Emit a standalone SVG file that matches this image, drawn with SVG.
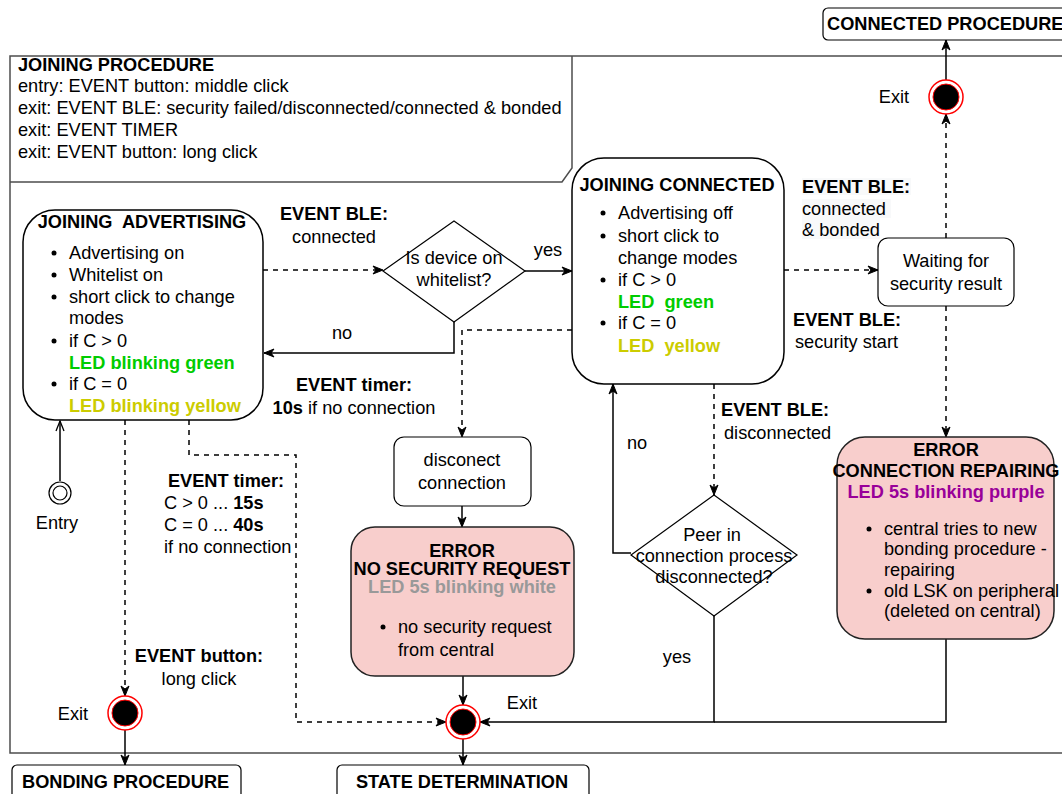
<svg xmlns="http://www.w3.org/2000/svg" width="1062" height="794" viewBox="0 0 1062 794">
  <defs>
    <style>
      .t { font-family: "Liberation Sans", Arial, sans-serif; font-size: 18.2px; fill: #000; }
      .b { font-weight: bold; }
      .c { text-anchor: middle; }
      .frame { fill: none; stroke: #4d4d4d; stroke-width: 1.5; }
      .state { fill: #fff; stroke: #000; stroke-width: 1.5; }
      .err { fill: #f8cecc; stroke: #222; stroke-width: 1.5; }
      .proc { fill: #fff; stroke: #000; stroke-width: 1.2; }
      .dia { fill: #fff; stroke: #000; stroke-width: 1.2; }
      .line { fill: none; stroke: #000; stroke-width: 1.5; }
      .dash { stroke-dasharray: 5 5; }
      .arr { marker-end: url(#arrow); }
      .dot { fill: #000; }
      .exitRing { fill: #fff; stroke: #ff0000; stroke-width: 1.5; }
      .exitCore { fill: #000; stroke: #ff0000; stroke-width: 1; }
      .lbl { fill: #f8f9fa; }
    </style>
    <marker id="arrow" markerUnits="userSpaceOnUse" markerWidth="11" markerHeight="9" refX="10" refY="4" orient="auto" overflow="visible">
      <path d="M0,0 L10,4 L0,8 L3,4 Z" fill="#000" stroke="#000" stroke-width="1"/>
    </marker>
    <marker id="open" markerUnits="userSpaceOnUse" markerWidth="11" markerHeight="9" refX="10" refY="4" orient="auto" overflow="visible">
      <path d="M0,0 L10,4 L0,8" fill="none" stroke="#000" stroke-width="1.3"/>
    </marker>
  </defs>

  <rect width="1062" height="794" fill="#fff"/>

  <!-- composite state frame -->
  <g id="joining-procedure">
    <path class="frame" d="M1070,56 H10 V753 H1070"/>
    <path class="frame" d="M10,182 H562 L572,168 V56"/>
    <text class="t b" x="18" y="71">JOINING PROCEDURE</text>
    <text class="t" x="18" y="92">entry: EVENT button: middle click</text>
    <text class="t" x="18" y="114">exit: EVENT BLE: security failed/disconnected/connected &amp; bonded</text>
    <text class="t" x="18" y="136">exit: EVENT TIMER</text>
    <text class="t" x="18" y="158">exit: EVENT button: long click</text>
  </g>

  <!-- transitions -->
  <g id="connectors">
    <path class="line dash arr" d="M263,270 H383"/>
    <path class="line arr" d="M454,322 V353 H264"/>
    <path class="line arr" d="M525,271 H572"/>
    <path class="line dash arr" d="M572,330 H462 V437"/>
    <path class="line arr" d="M462,506 V527"/>
    <path class="line arr" d="M463,676 V705"/>
    <path class="line arr" d="M463,739 V765"/>
    <path class="line dash arr" d="M125,420 V696"/>
    <path class="line arr" d="M125,730 V765"/>
    <path class="line" d="M60,481 V421" marker-end="url(#open)"/>
    <path class="line dash arr" d="M189,420 V455 H296 V722 H446"/>
    <path class="line arr" d="M631,553 H613 V384"/>
    <path class="line dash arr" d="M714,384 V495"/>
    <path class="line arr" d="M714,616 V722 H480"/>
    <path class="line" d="M946,639 V722 H714"/>
    <path class="line dash arr" d="M784,270 H878"/>
    <path class="line dash arr" d="M946,306 V437"/>
    <path class="line dash arr" d="M946,238 V114"/>
    <path class="line arr" d="M946,80 V40"/>

    <!-- transition labels -->
    <text class="t b c" x="334" y="220">EVENT BLE:</text>
    <text class="t c" x="334" y="243">connected</text>
    <text class="t c" x="342" y="339">no</text>
    <text class="t b c" x="354" y="391">EVENT timer:</text>
    <text class="t c" x="354" y="414"><tspan class="b">10s</tspan> if no connection</text>
    <text class="t c" x="548" y="256">yes</text>
    <text class="t b c" x="226" y="487">EVENT timer:</text>
    <text class="t" x="164" y="509">C &gt; 0 ... <tspan class="b">15s</tspan></text>
    <text class="t" x="164" y="531">C = 0 ... <tspan class="b">40s</tspan></text>
    <text class="t" x="164" y="553">if no connection</text>
    <text class="t b c" x="199" y="662">EVENT button:</text>
    <text class="t c" x="199" y="685">long click</text>
    <text class="t c" x="637" y="449">no</text>
    <text class="t b" x="721" y="416">EVENT BLE:</text>
    <text class="t" x="724" y="439">disconnected</text>
    <text class="t c" x="677" y="663">yes</text>
    <rect class="lbl" x="802" y="178" width="109" height="17"/>
    <rect class="lbl" x="802" y="199" width="89" height="19"/>
    <rect class="lbl" x="802" y="218" width="78" height="21"/>
    <text class="t b" x="802" y="193">EVENT BLE:</text>
    <text class="t" x="802" y="215">connected</text>
    <text class="t" x="802" y="236">&amp; bonded</text>
    <text class="t b" x="793" y="326">EVENT BLE:</text>
    <text class="t" x="795" y="348">security start</text>
  </g>

  <g id="joining-advertising">
    <rect class="state" x="23" y="210" width="240" height="210" rx="32"/>
    <text class="t b c" x="142" y="228">JOINING&#160; ADVERTISING</text>
    <circle class="dot" cx="54" cy="253" r="2.5"/>
    <circle class="dot" cx="54" cy="275" r="2.5"/>
    <circle class="dot" cx="54" cy="297" r="2.5"/>
    <circle class="dot" cx="54" cy="341" r="2.5"/>
    <circle class="dot" cx="54" cy="384" r="2.5"/>
    <text class="t" x="69" y="259">Advertising on</text>
    <text class="t" x="69" y="281">Whitelist on</text>
    <text class="t" x="69" y="303">short click to change</text>
    <text class="t" x="69" y="324">modes</text>
    <text class="t" x="69" y="347">if C &gt; 0</text>
    <text class="t b" x="69" y="369" style="fill:#00cc00">LED blinking green</text>
    <text class="t" x="69" y="390">if C = 0</text>
    <text class="t b" x="69" y="412" style="fill:#cccc00">LED blinking yellow</text>
  </g>

  <g id="whitelist-check">
    <polygon class="dia" points="454,221 525,271 454,322 383,271"/>
    <text class="t c" x="454" y="264">Is device on</text>
    <text class="t c" x="454" y="286">whitelist?</text>
  </g>

  <g id="joining-connected">
    <rect class="state" x="572" y="158" width="212" height="226" rx="32"/>
    <text class="t b c" x="677" y="191">JOINING CONNECTED</text>
    <circle class="dot" cx="603" cy="213" r="2.5"/>
    <circle class="dot" cx="603" cy="236" r="2.5"/>
    <circle class="dot" cx="603" cy="280" r="2.5"/>
    <circle class="dot" cx="603" cy="323" r="2.5"/>
    <text class="t" x="618" y="219">Advertising off</text>
    <text class="t" x="618" y="242">short click to</text>
    <text class="t" x="618" y="264">change modes</text>
    <text class="t" x="618" y="286">if C &gt; 0</text>
    <text class="t b" x="618" y="308" style="fill:#00cc00">LED&#160; green</text>
    <text class="t" x="618" y="329">if C = 0</text>
    <text class="t b" x="618" y="352" style="fill:#cccc00">LED&#160; yellow</text>
  </g>

  <g id="disconnect-connection">
    <rect class="proc" x="394" y="437" width="137" height="69" rx="10"/>
    <text class="t c" x="462" y="466">disconect</text>
    <text class="t c" x="462" y="489">connection</text>
  </g>

  <g id="error-no-security-request">
    <rect class="err" x="351" y="527" width="223" height="149" rx="24"/>
    <text class="t b c" x="462" y="557">ERROR</text>
    <text class="t b c" x="462" y="575">NO SECURITY REQUEST</text>
    <text class="t b c" x="462" y="593" style="fill:#999999">LED 5s blinking white</text>
    <circle class="dot" cx="383" cy="627" r="2.5"/>
    <text class="t" x="398" y="633">no security request</text>
    <text class="t" x="398" y="656">from central</text>
  </g>

  <g id="peer-check">
    <polygon class="dia" points="714,495 797,555 714,616 631,555"/>
    <text class="t c" x="712" y="541">Peer in</text>
    <text class="t c" x="714" y="562">connection process</text>
    <text class="t c" x="714" y="583">disconnected?</text>
  </g>

  <g id="waiting-security">
    <rect class="proc" x="878" y="238" width="136" height="68" rx="10"/>
    <text class="t c" x="946" y="267">Waiting for</text>
    <text class="t c" x="946" y="290">security result</text>
  </g>

  <g id="error-connection-repairing">
    <rect class="err" x="837" y="437" width="217" height="202" rx="28"/>
    <text class="t b c" x="946" y="456">ERROR</text>
    <text class="t b c" x="946" y="477">CONNECTION REPAIRING</text>
    <text class="t b c" x="946" y="498" style="fill:#990099">LED 5s blinking purple</text>
    <circle class="dot" cx="869" cy="529" r="2.5"/>
    <circle class="dot" cx="869" cy="591" r="2.5"/>
    <text class="t" x="884" y="535">central tries to new</text>
    <text class="t" x="884" y="555">bonding procedure -</text>
    <text class="t" x="884" y="576">repairing</text>
    <text class="t" x="884" y="597">old LSK on peripheral</text>
    <text class="t" x="884" y="617">(deleted on central)</text>
  </g>

  <g id="entry">
    <circle cx="60" cy="493" r="11" fill="#fff" stroke="#000" stroke-width="1.2"/>
    <circle cx="60" cy="493" r="7" fill="#fff" stroke="#000" stroke-width="1.2"/>
    <text class="t c" x="57" y="529">Entry</text>
  </g>

  <g id="exit-bonding">
    <circle class="exitRing" cx="125" cy="713" r="17"/>
    <circle class="exitCore" cx="125" cy="713" r="13"/>
    <text class="t c" x="73" y="720">Exit</text>
  </g>

  <g id="exit-state-determination">
    <circle class="exitRing" cx="463" cy="722" r="17"/>
    <circle class="exitCore" cx="463" cy="722" r="13"/>
    <text class="t c" x="522" y="709">Exit</text>
  </g>

  <g id="exit-connected">
    <circle class="exitRing" cx="946" cy="97" r="17"/>
    <circle class="exitCore" cx="946" cy="97" r="13"/>
    <text class="t c" x="894" y="103">Exit</text>
  </g>

  <g id="connected-procedure">
    <rect x="823" y="8" width="260" height="32" rx="5" fill="#fff" stroke="#000" stroke-width="1.2"/>
    <text class="t b" x="827" y="30">CONNECTED PROCEDURE</text>
  </g>

  <g id="bonding-procedure">
    <rect x="12" y="765" width="229" height="40" rx="5" fill="#fff" stroke="#000" stroke-width="1.2"/>
    <text class="t b" x="22" y="788">BONDING PROCEDURE</text>
  </g>

  <g id="state-determination">
    <rect x="337" y="765" width="252" height="40" rx="5" fill="#fff" stroke="#000" stroke-width="1.2"/>
    <text class="t b c" x="462" y="788">STATE DETERMINATION</text>
  </g>
</svg>
